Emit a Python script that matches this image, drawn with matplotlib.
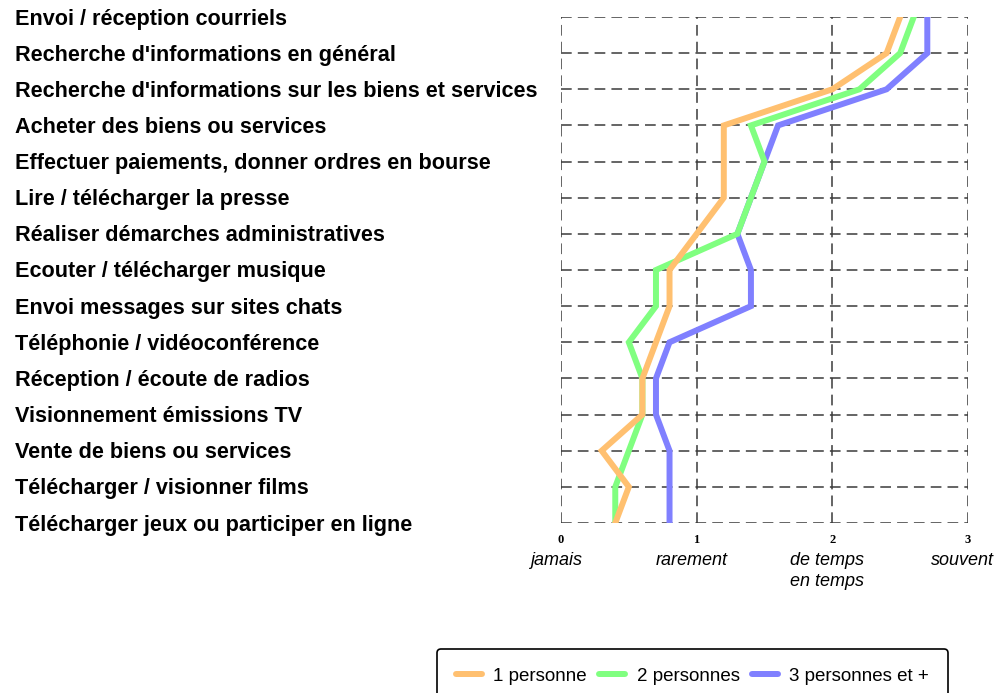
import matplotlib.pyplot as plt
from matplotlib.lines import Line2D

# Usage frequency by household size (0 = jamais ... 3 = souvent)
activites = [
    "Envoi / réception courriels",
    "Recherche d'informations en général",
    "Recherche d'informations sur les biens et services",
    "Acheter des biens ou services",
    "Effectuer paiements, donner ordres en bourse",
    "Lire / télécharger la presse",
    "Réaliser démarches administratives",
    "Ecouter / télécharger musique",
    "Envoi messages sur sites chats",
    "Téléphonie / vidéoconférence",
    "Réception / écoute de radios",
    "Visionnement émissions TV",
    "Vente de biens ou services",
    "Télécharger / visionner films",
    "Télécharger jeux ou participer en ligne",
]
une_personne = [2.5, 2.4, 2.0, 1.2, 1.2, 1.2, 1.0, 0.8, 0.8, 0.7, 0.6, 0.6, 0.3, 0.5, 0.4]
deux_personnes = [2.6, 2.5, 2.2, 1.4, 1.5, 1.4, 1.3, 0.7, 0.7, 0.5, 0.6, 0.6, 0.5, 0.4, 0.4]
trois_et_plus = [2.7, 2.7, 2.4, 1.6, 1.5, 1.4, 1.3, 1.4, 1.4, 0.8, 0.7, 0.7, 0.8, 0.8, 0.8]

echelle = [0, 1, 2, 3]
echelle_labels = ["jamais", "rarement", "de temps\nen temps", "souvent"]

# drawn back to front
series = [
    ("3 personnes et +", trois_et_plus, "#8080ff"),
    ("2 personnes", deux_personnes, "#80ff80"),
    ("1 personne", une_personne, "#ffc070"),
]

W, H = 994, 693
fig = plt.figure(figsize=(W / 100, H / 100), dpi=100)
ax = fig.add_axes([561 / W, 1 - 523 / H, 407 / W, 506 / H])

rows = list(range(len(activites)))
ax.set_xlim(0, 3)
ax.set_ylim(len(activites) - 1, 0)

# dashed grid, also used as the frame
dash = dict(color="#3a3a3a", lw=1.1, ls=(0, (7, 4)), zorder=1)
for r in rows:
    ax.axhline(r, **dash)
for v in echelle:
    ax.axvline(v, **dash)
for s in ax.spines.values():
    s.set_visible(False)
ax.set_xticks([])
ax.set_yticks([])

for nom, vals, col in series:
    ax.plot(vals, rows, color=col, lw=4.3, solid_joinstyle="miter", zorder=3)

tr = ax.get_xaxis_transform()
for v, lab in zip(echelle, echelle_labels):
    ax.text(v, -0.022, str(v), transform=tr, ha="center", va="top",
            family="Liberation Serif", fontweight="bold", fontsize=9)
    ax.text(v - 0.04, -0.058, lab, transform=tr, ha="center", va="top",
            family="Liberation Sans", style="italic", fontsize=13,
            linespacing=1.3)

# category names on the left, one per row
row_h = 506 / (len(activites) - 1)
for r, lab in zip(rows, activites):
    fig.text(15 / W, 1 - (19 + r * row_h) / H, lab, ha="left", va="center",
             family="Liberation Sans", fontweight="bold", fontsize=15.6)

handles = [Line2D([], [], color=c, lw=4.3, solid_capstyle="round") for _, _, c in reversed(series)]
labels = [n for n, _, _ in reversed(series)]
leg = fig.legend(handles, labels, loc="upper left", bbox_to_anchor=(437 / W, 1 - 649 / H),
                 borderaxespad=0, borderpad=1.0, ncol=3, frameon=True, fancybox=True,
                 edgecolor="black", framealpha=1,
                 handlelength=1.4, handletextpad=0.6, columnspacing=0.65,
                 prop={"family": "Liberation Sans", "size": 13.5})
leg.get_frame().set_linewidth(1.2)

fig.savefig("out.png", dpi=100, facecolor="white")
